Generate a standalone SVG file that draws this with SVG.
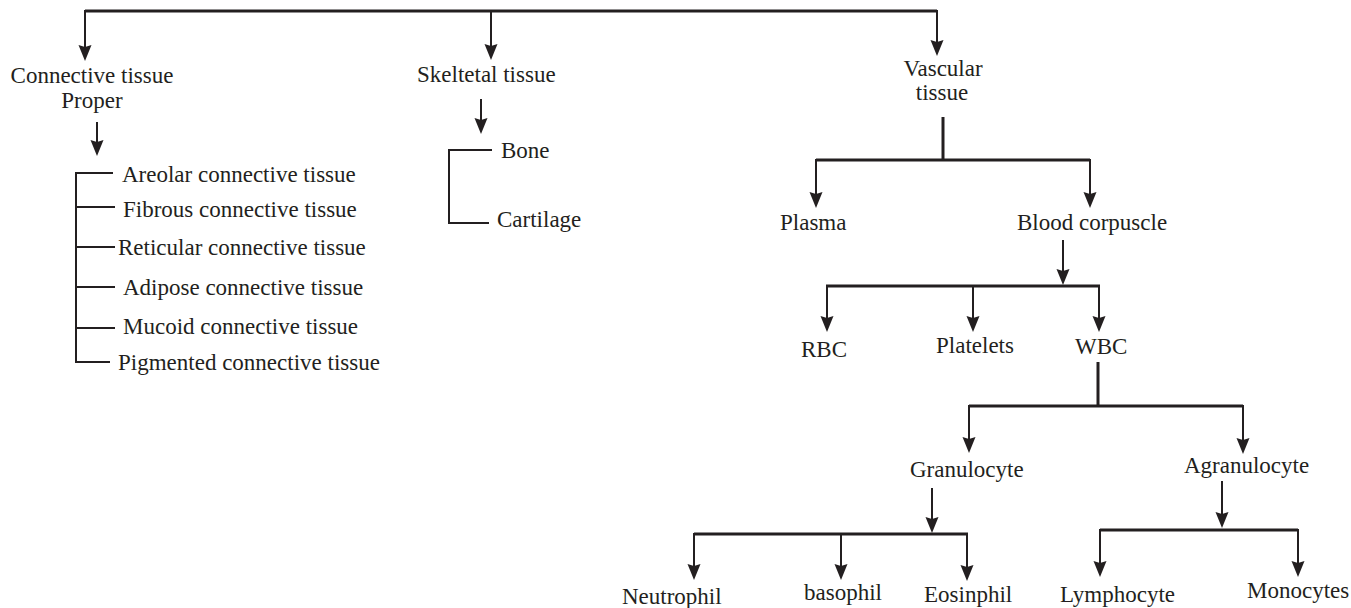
<svg xmlns="http://www.w3.org/2000/svg" width="1351" height="608" viewBox="0 0 1351 608">
<style>
.t{font-family:"Liberation Serif","Times New Roman",serif;font-size:23px;fill:#231f20}
.m{text-anchor:middle}
.bar{stroke:#231f20;stroke-width:3;fill:none}
.sh{stroke:#231f20;stroke-width:2;fill:none}
.ar{stroke:#231f20;stroke-width:2;fill:none;marker-end:url(#ah)}
</style>
<defs>
<marker id="ah" viewBox="0 0 16 14" refX="6" refY="7" markerWidth="16" markerHeight="14" markerUnits="userSpaceOnUse" orient="auto">
<path d="M0,0.5 L16,7 L0,13.5 L2,7 z" fill="#231f20"/>
</marker>
</defs>
<rect width="1351" height="608" fill="#fff"/>
<g id="connectors">
<path class="bar" d="M85,11 H937"/>
<line class="ar" x1="85" y1="10" x2="85" y2="51"/>
<line class="ar" x1="491" y1="10" x2="491" y2="50"/>
<line class="ar" x1="937" y1="10" x2="937" y2="46"/>
<line class="ar" x1="97" y1="122" x2="97" y2="146"/>
<path class="sh" d="M113,173 H76 V362 H110 M76,207 H115 M76,247 H115 M76,287 H115 M76,328 H115"/>
<line class="ar" x1="481" y1="99" x2="481" y2="124"/>
<path class="sh" d="M492,150 H449 V223 H489"/>
<line class="bar" x1="943" y1="117" x2="943" y2="161"/>
<path class="bar" d="M816,160 H1090"/>
<line class="ar" x1="816" y1="159" x2="816" y2="198"/>
<line class="ar" x1="1090" y1="159" x2="1090" y2="198"/>
<line class="ar" x1="1063" y1="240" x2="1063" y2="275"/>
<path class="bar" d="M826,286 H1100"/>
<line class="ar" x1="827" y1="285" x2="827" y2="322"/>
<line class="ar" x1="973" y1="285" x2="973" y2="322"/>
<line class="ar" x1="1099" y1="285" x2="1099" y2="322"/>
<line class="bar" x1="1098" y1="362" x2="1098" y2="407"/>
<path class="bar" d="M969,406 H1243"/>
<line class="ar" x1="969" y1="405" x2="969" y2="443"/>
<line class="ar" x1="1243" y1="405" x2="1243" y2="444"/>
<line class="ar" x1="932" y1="488" x2="932" y2="523"/>
<path class="bar" d="M694,534 H968"/>
<line class="ar" x1="694" y1="533" x2="694" y2="570"/>
<line class="ar" x1="841" y1="533" x2="841" y2="570"/>
<line class="ar" x1="967" y1="533" x2="967" y2="571"/>
<line class="ar" x1="1222" y1="481" x2="1222" y2="518"/>
<path class="bar" d="M1100,530 H1298"/>
<line class="ar" x1="1100" y1="529" x2="1100" y2="567"/>
<line class="ar" x1="1298" y1="529" x2="1298" y2="567"/>
</g>
<g id="n-connective"><text class="t m" x="92" y="83">Connective tissue</text><text class="t m" x="92" y="108">Proper</text></g>
<g id="n-areolar"><text class="t" x="122" y="182">Areolar connective tissue</text></g>
<g id="n-fibrous"><text class="t" x="123" y="217">Fibrous connective tissue</text></g>
<g id="n-reticular"><text class="t" x="118" y="255">Reticular connective tissue</text></g>
<g id="n-adipose"><text class="t" x="123" y="295">Adipose connective tissue</text></g>
<g id="n-mucoid"><text class="t" x="123" y="334">Mucoid connective tissue</text></g>
<g id="n-pigmented"><text class="t" x="118" y="370">Pigmented connective tissue</text></g>
<g id="n-skeletal"><text class="t" x="417" y="82">Skeltetal tissue</text></g>
<g id="n-bone"><text class="t" x="501" y="158">Bone</text></g>
<g id="n-cartilage"><text class="t" x="497" y="227">Cartilage</text></g>
<g id="n-vascular"><text class="t m" x="943" y="76">Vascular</text><text class="t m" x="942" y="100">tissue</text></g>
<g id="n-plasma"><text class="t" x="780" y="230">Plasma</text></g>
<g id="n-blood"><text class="t" x="1017" y="230">Blood corpuscle</text></g>
<g id="n-rbc"><text class="t" x="801" y="357">RBC</text></g>
<g id="n-platelets"><text class="t" x="936" y="353">Platelets</text></g>
<g id="n-wbc"><text class="t" x="1075" y="354">WBC</text></g>
<g id="n-granulocyte"><text class="t" x="910" y="477">Granulocyte</text></g>
<g id="n-agranulocyte"><text class="t" x="1184" y="473">Agranulocyte</text></g>
<g id="n-neutrophil"><text class="t" x="622" y="604">Neutrophil</text></g>
<g id="n-basophil"><text class="t" x="804" y="600">basophil</text></g>
<g id="n-eosinphil"><text class="t" x="924" y="602">Eosinphil</text></g>
<g id="n-lymphocyte"><text class="t" x="1060" y="602">Lymphocyte</text></g>
<g id="n-monocytes"><text class="t" x="1247" y="598">Monocytes</text></g>
</svg>
